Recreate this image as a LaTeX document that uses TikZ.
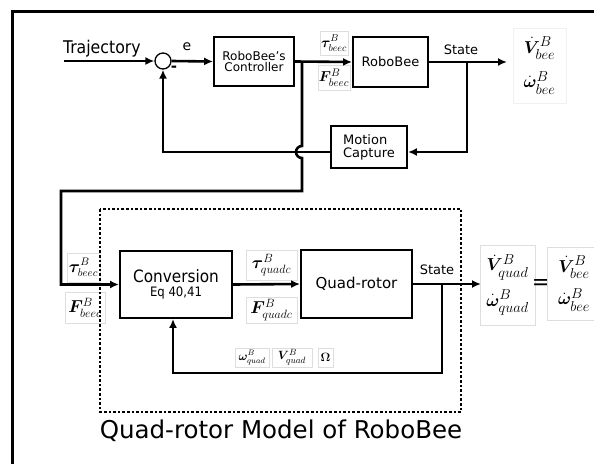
\documentclass[tikz,border=0pt]{standalone}
\usepackage{amsmath,bm}
\usepackage[no-math]{fontspec}
\setmainfont{DejaVu Sans}
\newfontfamily\condfont{DejaVu Sans Condensed}
\usetikzlibrary{arrows.meta}
\newcommand{\fs}[1]{\fontsize{#1}{#1}\selectfont}
\tikzset{
  blk/.style={draw, line width=1.9pt, inner sep=1pt, align=center},
  conn/.style={line width=2.6pt, -{Latex[length=9pt,width=8pt]}},
  wire/.style={line width=2.6pt},
  lbl/.style={draw=black!13, line width=0.6pt, inner sep=1pt, align=center},
}
\begin{document}
\begin{tikzpicture}[x=1pt,y=-1pt]
\useasboundingbox (0,0) rectangle (594,463);
% outer frame
\draw[line width=3pt] (12,11) rectangle (640,500);

% ---------- top loop ----------
\coordinate (tstart) at (64,61);
\node[anchor=base west, inner sep=0, font=\condfont\fs{17.5}] (traj) at (63,53) {Trajectory};
\node[circle, draw, line width=1.3pt, minimum size=16pt, inner sep=0] (sum) at (163,61) {};
\node[inner sep=0, font=\fs{14}] (e) at (187,47) {e};
\node[inner sep=0, font=\bfseries\fs{15}] (minus) at (174,69) {-};
\node[blk, minimum width=80pt, minimum height=49pt, font=\fs{12}] (ctrl) at (254,61.5) {RoboBee's\\[-1pt]Controller};
\node[blk, minimum width=75pt, minimum height=50pt, font=\fs{13}] (bee) at (390.5,62) {RoboBee};
\node[blk, minimum width=76pt, minimum height=42pt, align=left, font=\fs{13}] (mocap) at (369,147) {Motion\\Capture};

\node[lbl, minimum width=28pt, minimum height=24pt, font=\fs{14}] (tauT) at (334,43) {$\bm{\tau}^{B}_{beec}$};
\node[lbl, minimum width=32pt, minimum height=25pt, font=\fs{15}] (FT) at (334,77.5) {$\bm{F}^{B}_{beec}$};
\node[lbl, minimum width=53pt, minimum height=75pt, font=\fs{19}, draw=black!6] (beeV) at (539.5,65.5) {$\dot{\bm{V}}^{B}_{bee}$\\[11pt]$\dot{\bm{\omega}}^{B}_{bee}$};

\draw[conn] (tstart) -- (sum.west);
\draw[conn] (sum.east) -- (ctrl.west);
\draw[conn] (ctrl.east) -- (bee.west);
\node[inner sep=0, font=\fs{13}] (st1) at (461,50) {State};
\coordinate (sout) at (507,62);
\draw[conn] (bee.east) -- (sout);
\coordinate (j2) at (467,62);
\coordinate (fb1) at (467,152);
\draw[conn] (j2) -- (fb1) -- (fb1 -| mocap.east);
\draw[conn] (mocap.west |- fb1) -| (sum.south);

% ---------- link to lower part ----------
\coordinate (j1) at (302,61.5);
\coordinate (hopA) at (302,146);
\coordinate (c1) at (302,191);
\coordinate (c2) at (61,191);

% ---------- lower part ----------
\node[blk, minimum width=112pt, minimum height=67pt] (conv) at (176,284.5) {{\condfont\fs{17}Conversion}\\[2pt]{\condfont\fs{13}Eq 40,41}};
\node[blk, minimum width=111pt, minimum height=68pt, font=\fs{15}] (quad) at (356.5,284) {Quad-rotor};

\draw[conn] (j1) -- (hopA) arc[start angle=90, end angle=270, radius=6pt] -- (c1) -- (c2) |- (conv.west);

\node[lbl, minimum width=33pt, minimum height=29pt, font=\fs{16}] (tauL) at (83.5,267.5) {$\bm{\tau}^{B}_{beec}$};
\node[lbl, minimum width=40pt, minimum height=31pt, font=\fs{17}] (FL) at (85,307.5) {$\bm{F}^{B}_{beec}$};
\node[lbl, minimum width=51pt, minimum height=30pt, font=\fs{18}] (tauQ) at (271.5,265) {$\bm{\tau}^{B}_{quadc}$};
\node[lbl, minimum width=51pt, minimum height=26pt, font=\fs{18}] (FQ) at (271.5,310) {$\bm{F}^{B}_{quadc}$};
\node[lbl, minimum width=34pt, minimum height=19pt, font=\fs{12}] (wQ) at (252,357.5) {$\bm{\omega}^{B}_{quad}$};
\node[lbl, minimum width=40pt, minimum height=19pt, font=\fs{13}] (VQ) at (292,357.5) {$\bm{V}^{B}_{quad}$};
\node[lbl, minimum width=15pt, minimum height=19pt, font=\fs{13}] (Om) at (325.5,357.5) {$\bm{\Omega}$};

\draw[conn] (conv.east) -- (quad.west);
\node[inner sep=0, font=\fs{13}] (st2) at (437,270) {State};
\coordinate (qout) at (481,284);
\draw[conn] (quad.east) -- (qout);
\coordinate (j3) at (442,284);
\coordinate (fb2) at (442,373);
\draw[conn] (j3) -- (fb2) -| ([xshift=-3pt]conv.south);

\node[lbl, minimum width=55pt, minimum height=80pt, font=\fs{19}] (qV) at (507.5,285) {$\dot{\bm{V}}^{B}_{quad}$\\[9pt]$\dot{\bm{\omega}}^{B}_{quad}$};
\node[inner sep=0, font=\fs{22}] (eq) at (541,285) {=};
\node[lbl, minimum width=53pt, minimum height=73pt, font=\fs{19}] (bV) at (574,283.5) {$\dot{\bm{V}}^{B}_{bee}$\\[9pt]$\dot{\bm{\omega}}^{B}_{bee}$};

\draw[line width=2.6pt, dotted] (100,209) rectangle (461,412);
\node[anchor=base, inner sep=0, font=\fs{24.5}] (title) at (281,438) {Quad-rotor Model of RoboBee};
\end{tikzpicture}
\end{document}
